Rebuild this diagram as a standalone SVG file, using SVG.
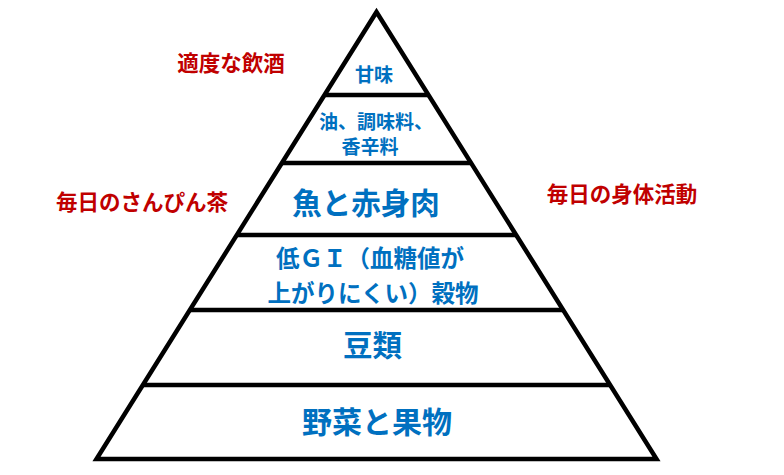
<svg xmlns="http://www.w3.org/2000/svg" width="784" height="475" viewBox="0 0 784 475">
<style>
.ln{fill:none;stroke:#000;stroke-width:4.5;stroke-linejoin:miter;stroke-miterlimit:10}
.b{font-family:"Noto Sans CJK JP","Noto Sans",sans-serif;font-weight:bold;fill:#0070C0;text-anchor:middle;dominant-baseline:central}
.r{font-family:"Noto Sans CJK JP","Noto Sans",sans-serif;font-weight:bold;fill:#C00000;text-anchor:middle;dominant-baseline:central;font-size:21.5px}
</style>
<rect width="784" height="475" fill="#fff"/>
<g id="pyramid">
<polygon class="ln" points="376.5,12 96.5,459 656.5,459"/>
<line class="ln" x1="324" y1="95" x2="429" y2="95"/>
<line class="ln" x1="281" y1="163" x2="472" y2="163"/>
<line class="ln" x1="236" y1="235" x2="517" y2="235"/>
<line class="ln" x1="189" y1="310" x2="564" y2="310"/>
<line class="ln" x1="142" y1="385" x2="611" y2="385"/>
</g>
<g id="tier1"><text class="b" x="374" y="73" font-size="19">甘味</text></g>
<g id="tier2"><text class="b" font-size="19"><tspan x="376" y="120">油、調味料、</tspan><tspan x="370" y="145">香辛料</tspan></text></g>
<g id="tier3"><text class="b" x="366" y="201" font-size="29.5">魚と赤身肉</text></g>
<g id="tier4"><text class="b" font-size="23.5"><tspan x="370" y="257">低ＧＩ（血糖値が</tspan><tspan x="373" y="292">上がりにくい）穀物</tspan></text></g>
<g id="tier5"><text class="b" x="372.5" y="343" font-size="29.5">豆類</text></g>
<g id="tier6"><text class="b" x="377" y="419.5" font-size="30">野菜と果物</text></g>
<g id="alcohol"><text class="r" x="231" y="61">適度な飲酒</text></g>
<g id="tea"><text class="r" x="142" y="200" font-size="22.5">毎日のさんぴん茶</text></g>
<g id="activity"><text class="r" x="622" y="192">毎日の身体活動</text></g>
</svg>
